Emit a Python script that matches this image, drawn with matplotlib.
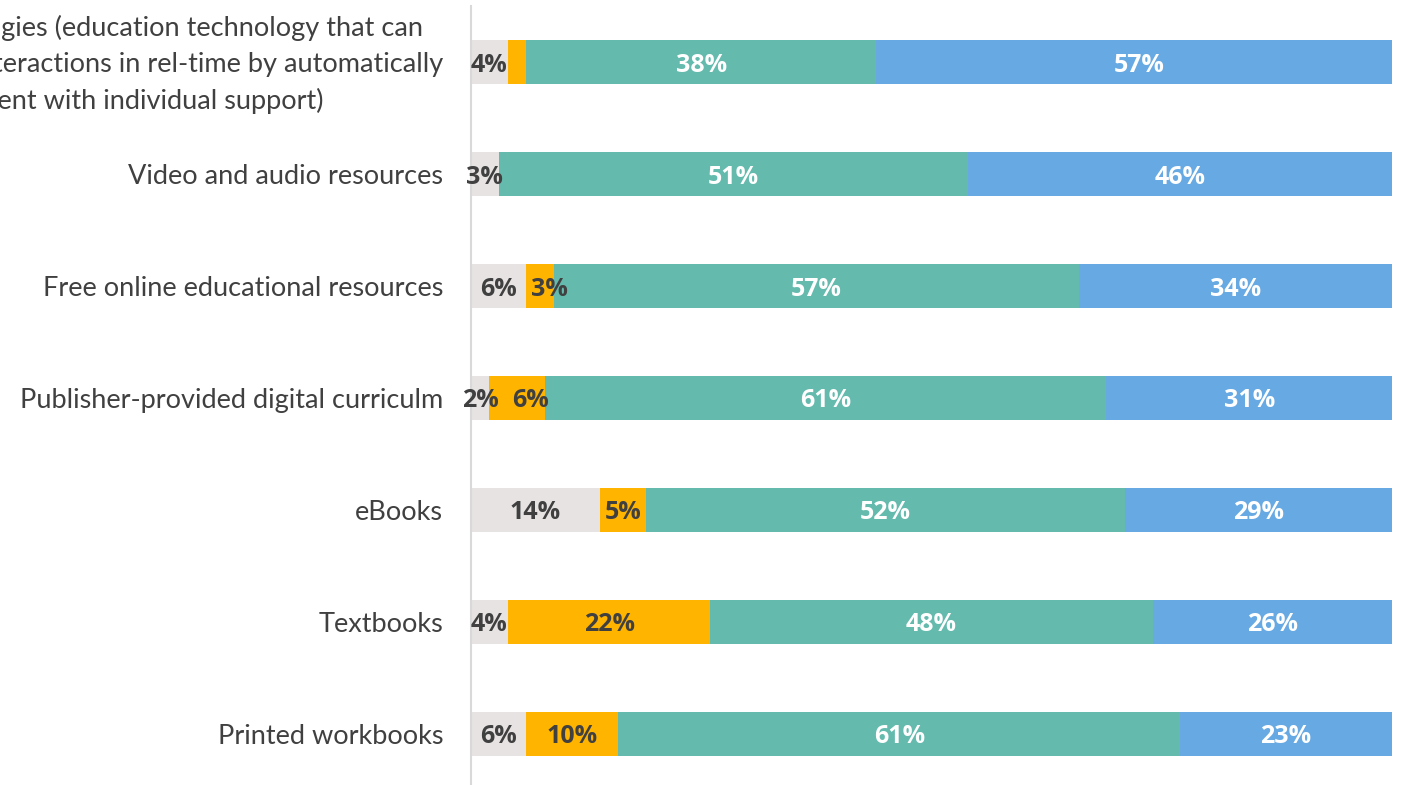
import matplotlib.pyplot as plt
import matplotlib.transforms as mtransforms
import numpy as np

categories = [
    "Adaptive technologies (education technology that can\nadjust to student interactions in rel-time by automatically\neach student with individual support)",
    "Video and audio resources",
    "Free online educational resources",
    "Publisher-provided digital curriculm",
    "eBooks",
    "Textbooks",
    "Printed workbooks",
]
gray_vals = [4, 3, 6, 2, 14, 4, 6]
orange_vals = [2, 0, 3, 6, 5, 22, 10]
teal_vals = [38, 51, 57, 61, 52, 48, 61]
blue_vals = [57, 46, 34, 31, 29, 26, 23]
orange_labels = ["", "", "3%", "6%", "5%", "22%", "10%"]

series = [gray_vals, orange_vals, teal_vals, blue_vals]
colors = ["#E7E3E3", "#FFB400", "#63BAAD", "#67A9E3"]
label_colors = ["#404040", "#404040", "white", "white"]

plt.rcParams['font.family'] = ['Lato', 'DejaVu Sans']

fig = plt.figure(figsize=(14.01, 7.85), dpi=100)
ax = fig.add_axes([471 / 1401, -0.006, 921 / 1401, 0.998])

y = np.arange(len(categories))
left = np.zeros(len(categories))
row_texts = [[] for _ in categories]
for i, vals in enumerate(series):
    vals = np.array(vals, dtype=float)
    ax.barh(y, vals, left=left, height=0.39, color=colors[i], edgecolor='none')
    for j, v in enumerate(vals):
        if v <= 0:
            continue
        txt = orange_labels[j] if i == 1 else "%d%%" % v
        if txt:
            t = ax.text(left[j] + v / 2, y[j], txt, ha='center', va='center_baseline',
                        fontsize=18, fontweight='bold', color=label_colors[i],
                        family=['Open Sans', 'DejaVu Sans'])
            row_texts[j].append(t)
    left += vals

ax.set_xlim(0, 100)
ax.set_ylim(len(categories) - 0.5, -0.5)
ax.set_yticks(y)
ax.set_yticklabels(categories, fontsize=19.5, color='#404040',
                   multialignment='center', linespacing=1.55)
ax.tick_params(axis='y', length=0, pad=20)
ax.set_xticks([])
for s in ['top', 'right', 'bottom']:
    ax.spines[s].set_visible(False)
ax.spines['left'].set_color('#D9D9D9')
ax.spines['left'].set_linewidth(1.5)

# nudge the three-line label up a little
first = ax.get_yticklabels()[0]
first.set_transform(first.get_transform() +
                    mtransforms.ScaledTranslation(0, 0.06, fig.dpi_scale_trans))

# push crowded data labels to the right, like the original
fig.canvas.draw()
renderer = fig.canvas.get_renderer()
for texts in row_texts:
    for a, b in zip(texts[:-1], texts[1:]):
        ra = a.get_window_extent(renderer).x1
        lb = b.get_window_extent(renderer).x0
        gap = 14
        if lb < ra + gap:
            shift = (ra + gap - lb) / fig.dpi
            b.set_transform(b.get_transform() +
                            mtransforms.ScaledTranslation(shift, 0, fig.dpi_scale_trans))

fig.savefig('out.png', dpi=100)
